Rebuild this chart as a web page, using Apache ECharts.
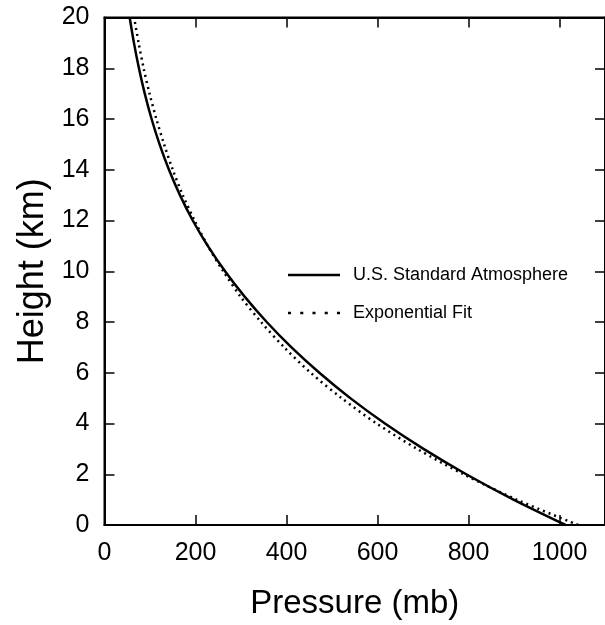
<!DOCTYPE html>
<html>
<head>
<meta charset="utf-8">
<script src="https://cdn.jsdelivr.net/npm/echarts@6/dist/echarts.min.js"></script>
<style>
html,body{margin:0;padding:0;background:#fff;}
#chart{width:605px;height:625px;}
</style>
</head>
<body>
<div id="chart"></div>
<script>
// Heights (km)
const heights = [0,1,2,3,4,5,6,7,8,9,10,11,12,13,14,15,16,17,18,19,20];
// U.S. Standard Atmosphere pressure (mb) at each height
const standardPressure = [1013.3,898.8,795.0,701.1,616.4,540.2,472.2,411.0,356.5,308.0,265.0,227.0,194.0,165.8,141.7,121.1,103.5,88.5,75.7,64.7,55.3];
// Exponential fit pressure (mb)
const fitPressure = [1041,906,789,687,598,521,453,395,344,299,261,227,198,172,150,131,114,99,86,75,65];
const xTicks = [0,200,400,600,800,1000];
const yTicks = [0,2,4,6,8,10,12,14,16,18,20];
const seriesNames = ['U.S. Standard Atmosphere','Exponential Fit'];

const FONT = 'Liberation Sans, Arial, Helvetica, sans-serif';
const chart = echarts.init(document.getElementById('chart'), null, {renderer:'canvas'});

function pairs(p){ return heights.map((h,i)=>[p[i],h]); }

const axisLine = {show:true, onZero:false, lineStyle:{color:'#000', width:2}};
const tick = {show:true, inside:true, length:10, lineStyle:{color:'#000', width:1.5}};
const option = {
  animation:false,
  backgroundColor:'#fff',
  grid:{left:104.5, top:17.5, right:-6, bottom:98, containLabel:false,
    show:true, borderColor:'#000', borderWidth:2, backgroundColor:'transparent'},
  legend:{
    orient:'vertical', left:283, top:261, itemWidth:52, itemHeight:14, itemGap:20,
    data:[
      {name:seriesNames[0], icon:'path://M0,6 L52,6 L52,8.5 L0,8.5 Z'},
      {name:seriesNames[1], icon:'path://M0,6 L3,6 L3,8.5 L0,8.5 Z M12,6 L15,6 L15,8.5 L12,8.5 Z M24,6 L27,6 L27,8.5 L24,8.5 Z M36,6 L39,6 L39,8.5 L36,8.5 Z M48,6 L51,6 L51,8.5 L48,8.5 Z'}
    ],
    itemStyle:{color:'#000'},
    textStyle:{fontFamily:FONT, fontSize:18, color:'#000', padding:[0,0,0,8]}
  },
  xAxis:[{
    type:'value', min:0, max:1100, interval:200, position:'bottom',
    name:'Pressure (mb)', nameLocation:'middle', nameGap:62,
    nameTextStyle:{fontFamily:FONT, fontSize:33, color:'#000'},
    axisLine:axisLine, axisTick:tick,
    axisLabel:{fontFamily:FONT, fontSize:25, color:'#000', margin:16, showMaxLabel:false,
      formatter:v=> xTicks.indexOf(v)>=0 ? String(v) : ''},
    splitLine:{show:false}
  },{
    type:'value', min:0, max:1100, interval:200, position:'top',
    axisLine:axisLine, axisTick:tick,
    axisLabel:{show:false}, splitLine:{show:false}
  }],
  yAxis:[{
    type:'value', min:0, max:20, interval:2, position:'left',
    name:'Height (km)', nameLocation:'middle', nameGap:50,
    nameTextStyle:{fontFamily:FONT, fontSize:36, color:'#000'},
    axisLine:axisLine, axisTick:tick,
    axisLabel:{fontFamily:FONT, fontSize:25, color:'#000', margin:15,
      formatter:v=> yTicks.indexOf(v)>=0 ? String(v) : ''},
    splitLine:{show:false}
  },{
    type:'value', min:0, max:20, interval:2, position:'right',
    axisLine:axisLine, axisTick:tick,
    axisLabel:{show:false}, splitLine:{show:false}
  }],
  series:[{
    name:seriesNames[0], type:'line', data:pairs(standardPressure),
    xAxisIndex:0, yAxisIndex:0, smooth:0.3, symbol:'none', showSymbol:false,
    lineStyle:{color:'#000', width:2.5}, itemStyle:{color:'#000'}
  },{
    name:seriesNames[1], type:'line', data:pairs(fitPressure),
    xAxisIndex:0, yAxisIndex:0, smooth:0.3, symbol:'none', showSymbol:false,
    lineStyle:{color:'#000', width:2.5, type:[2,4]}, itemStyle:{color:'#000'}
  }]
};
chart.setOption(option);
</script>
</body>
</html>
